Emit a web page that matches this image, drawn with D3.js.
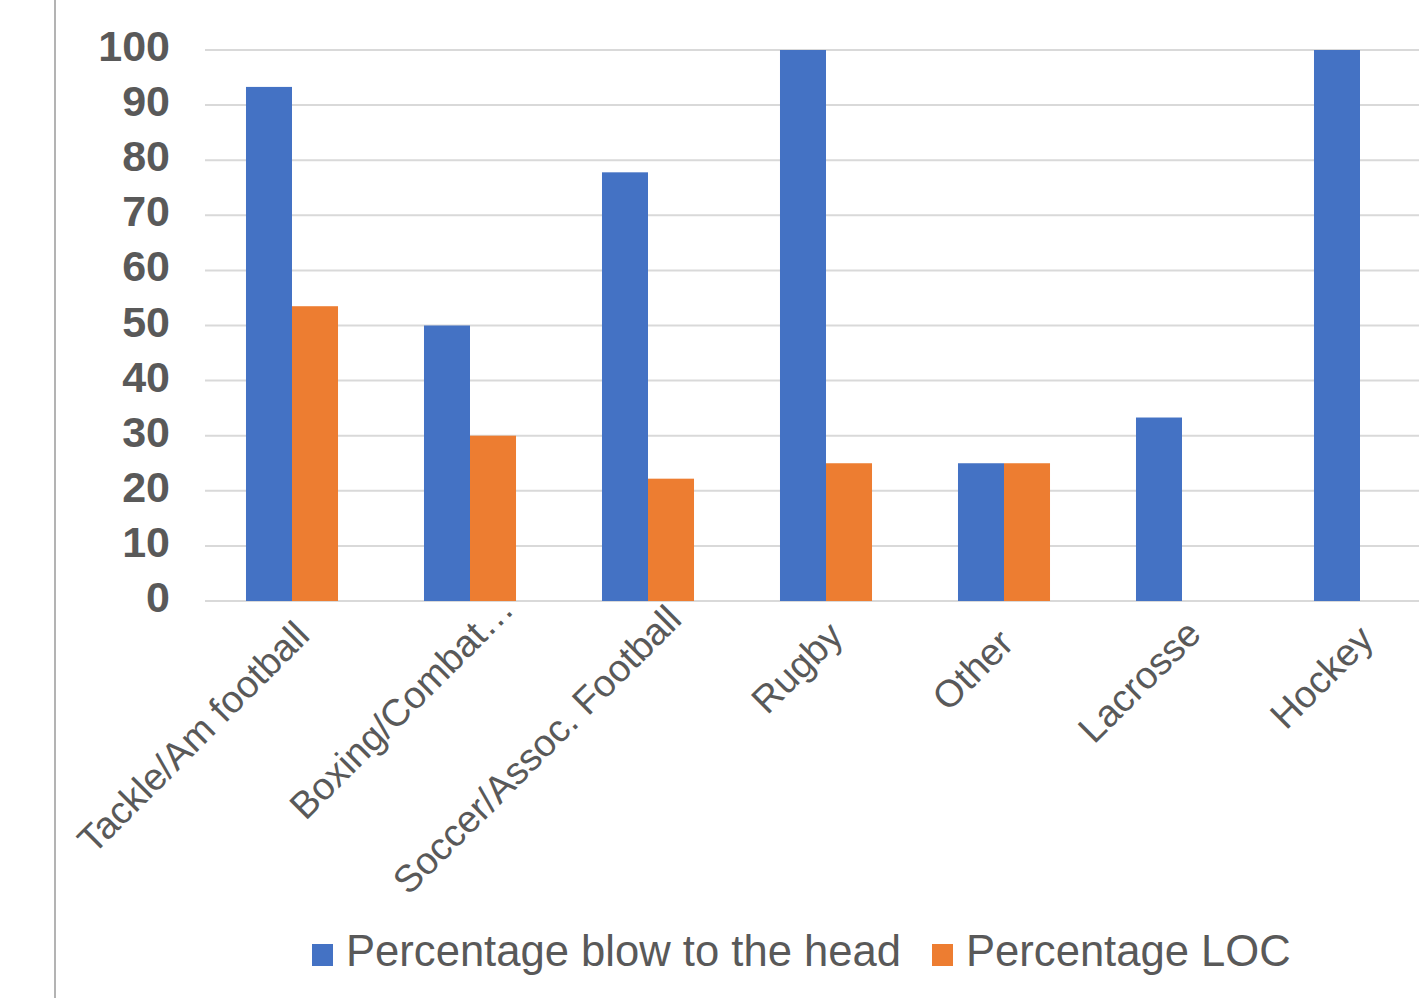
<!DOCTYPE html>
<html>
<head>
<meta charset="utf-8">
<script src="https://cdn.jsdelivr.net/npm/d3@7"></script>
<style>
  html, body { margin: 0; padding: 0; background: #fff; }
  svg { display: block; }
  text { font-family: "Liberation Sans", Arial, Helvetica, sans-serif; fill: #595959; }
</style>
</head>
<body>
<svg id="chart" width="1419" height="998"></svg>
<script>
const categories = ["Tackle/Am football", "Boxing/Combat\u2026", "Soccer/Assoc. Football", "Rugby", "Other", "Lacrosse", "Hockey"];
const seriesNames = ["Percentage blow to the head", "Percentage LOC"];
const blowToHead = [93.3, 50, 77.8, 100, 25, 33.3, 100];
const lossOfConsciousness = [53.5, 30, 22.2, 25, 25, 0, 0];
const yTicks = [0, 10, 20, 30, 40, 50, 60, 70, 80, 90, 100];
const colors = ["#4472C4", "#ED7D31"];

// layout: shift of each rotated label along its own direction (px)
const labelSlide = [-17, 36, 15, -18, -33, -14, -25];

const svg = d3.select("#chart");

// left border line
svg.append("line").attr("x1", 55).attr("x2", 55).attr("y1", 0).attr("y2", 998)
  .attr("stroke", "#b3b3b3").attr("stroke-width", 2);

const y = d3.scaleLinear().domain([0, 100]).range([601, 50]);
const x0 = d3.scaleBand().domain(categories).range([203, 1449]).paddingInner(0.483).paddingOuter(0.2415);
const x1 = d3.scaleBand().domain(seriesNames).range([0, x0.bandwidth()]);

// gridlines
svg.append("g").selectAll("line").data(yTicks).join("line")
  .attr("x1", 205).attr("x2", 1419)
  .attr("y1", d => y(d)).attr("y2", d => y(d))
  .attr("stroke", "#d9d9d9").attr("stroke-width", 2);

// y tick labels
svg.append("g").selectAll("text").data(yTicks).join("text")
  .attr("x", 170).attr("y", d => y(d) + 11)
  .attr("text-anchor", "end")
  .style("font-size", "43px").style("font-weight", "bold")
  .text(d => d);

// bars
const rows = categories.map((c, i) => ({ cat: c, vals: [blowToHead[i], lossOfConsciousness[i]] }));
const groups = svg.append("g").selectAll("g").data(rows).join("g")
  .attr("transform", d => `translate(${x0(d.cat)},0)`);
groups.selectAll("rect").data(d => d.vals.map((v, j) => ({ name: seriesNames[j], v, j })))
  .join("rect")
  .attr("x", d => x1(d.name))
  .attr("width", x1.bandwidth())
  .attr("y", d => y(d.v))
  .attr("height", d => y(0) - y(d.v))
  .attr("fill", d => colors[d.j]);

// x category labels (baseline end anchored below each category)
const perp = 56;
svg.append("g").selectAll("text").data(categories).join("text")
  .attr("transform", (d, i) => {
    const t = labelSlide[i];
    const cx = x0(d) + x0.bandwidth() / 2 + (perp + t) / 2;
    const cy = y(0) + (perp - t) / 2;
    return `translate(${cx},${cy}) rotate(-45)`;
  })
  .attr("text-anchor", "end")
  .style("font-size", "38px")
  .text(d => d);

// legend
const legend = svg.append("g");
const legendX = [312, 932];
seriesNames.forEach((s, i) => {
  legend.append("rect").attr("x", legendX[i]).attr("y", 944).attr("width", 21).attr("height", 22).attr("fill", colors[i]);
  legend.append("text").attr("x", legendX[i] + 34).attr("y", 966)
    .style("font-size", "43.6px").text(s);
});
</script>
</body>
</html>
